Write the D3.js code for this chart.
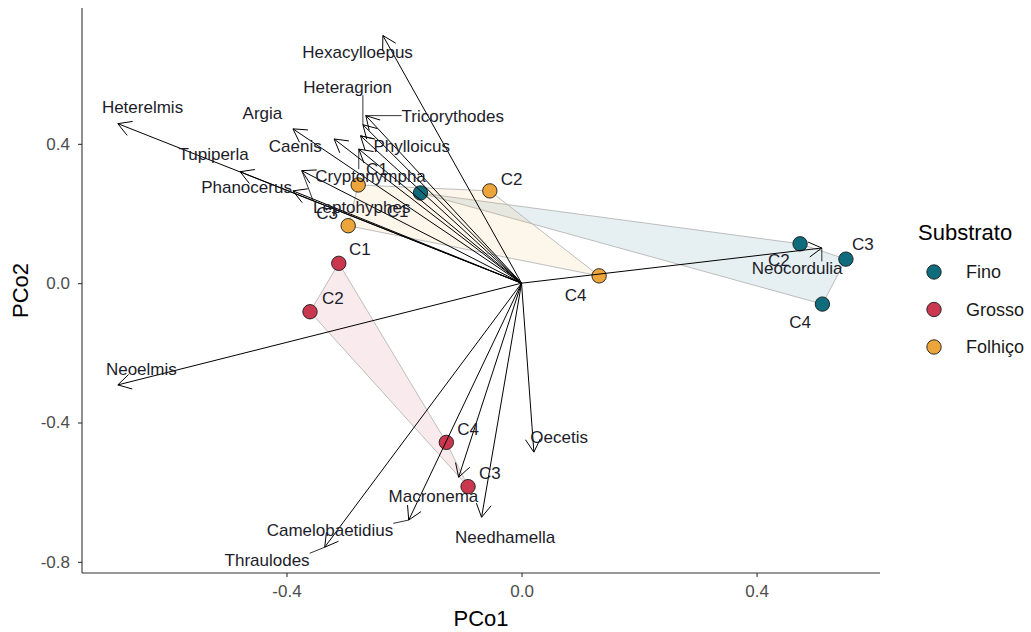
<!DOCTYPE html>
<html>
<head>
<meta charset="utf-8">
<script src="https://cdn.jsdelivr.net/npm/d3@7/dist/d3.min.js"></script>
<style>
  html, body { margin: 0; padding: 0; background: #fff; }
  svg { display: block; font-family: "Liberation Sans", Arial, sans-serif; }
</style>
</head>
<body>
<svg id="chart" width="1031" height="632"></svg>
<script>
// ---------- data ----------
const groups = ["Fino", "Grosso", "Folhiço"];
const groupColors = ["#0E6C7C", "#C9384F", "#EBA53B"];

const siteGroup = ["Fino","Fino","Fino","Fino","Folhiço","Folhiço","Folhiço","Folhiço","Grosso","Grosso","Grosso","Grosso"];
const siteName  = ["C1","C2","C3","C4","C1","C2","C3","C4","C1","C2","C3","C4"];
const siteX     = [-0.172, 0.474, 0.552, 0.512, -0.278, -0.054, -0.295, 0.132, -0.311, -0.360, -0.091, -0.128];
const siteY     = [ 0.259, 0.113, 0.069, -0.060, 0.282, 0.265, 0.165, 0.021, 0.057, -0.082, -0.584, -0.457];
const siteLabX  = [-0.211, 0.438, 0.581, 0.474, -0.246, -0.017, -0.331, 0.092, -0.275, -0.321, -0.054, -0.091];
const siteLabY  = [ 0.205, 0.064, 0.110, -0.114, 0.326, 0.297, 0.199, -0.036, 0.096, -0.045, -0.545, -0.419];

const taxa  = ["Hexacylloepus","Heteragrion","Tricorythodes","Phylloicus","Cryptonympha","Argia","Caenis",
               "Leptohyphes","Tupiperla","Phanocerus","Heterelmis","Neocordulia","Neoelmis","Thraulodes",
               "Camelobaetidius","Macronema","Needhamella","Oecetis"];
const taxaX = [-0.236,-0.270,-0.265,-0.274,-0.277,-0.389,-0.319,-0.374,-0.479,-0.389,-0.687, 0.511,-0.687,-0.335,-0.192,-0.107,-0.068, 0.021];
const taxaY = [ 0.711, 0.455, 0.481, 0.423, 0.385, 0.443, 0.414, 0.323, 0.320, 0.265, 0.458, 0.101,-0.292,-0.758,-0.680,-0.557,-0.672,-0.485];
const taxaLabX = [-0.279,-0.296,-0.117,-0.187,-0.257,-0.441,-0.385,-0.272,-0.524,-0.468,-0.645, 0.469,-0.647,-0.433,-0.326,-0.150,-0.028, 0.064];
const taxaLabY = [ 0.662, 0.561, 0.478, 0.393, 0.306, 0.487, 0.393, 0.216, 0.369, 0.274, 0.504, 0.041,-0.247,-0.797,-0.711,-0.613,-0.729,-0.443];

const xTicks = [-0.4, 0.0, 0.4];
const yTicks = [-0.8, -0.4, 0.0, 0.4];
const xTitle = "PCo1", yTitle = "PCo2", legendTitle = "Substrato";

// ---------- layout ----------
const svg = d3.select("#chart");
const M = { left: 82, right: 880, top: 8, bottom: 573 };
const x = d3.scaleLinear().domain([-0.748, 0.610]).range([M.left, M.right]);
const y = d3.scaleLinear().domain([-0.832, 0.790]).range([M.bottom, M.top]);
const color = d3.scaleOrdinal().domain(groups).range(groupColors);
const fmt = v => d3.format(".1f")(v).replace("\u2212", "-");

const sites = siteName.map((n, i) => ({ name: n, g: siteGroup[i], x: siteX[i], y: siteY[i], lx: siteLabX[i], ly: siteLabY[i] }));
const vecs = taxa.map((n, i) => ({ name: n, x: taxaX[i], y: taxaY[i], lx: taxaLabX[i], ly: taxaLabY[i] }));

// hulls
const gHull = svg.append("g");
groups.forEach(g => {
  const pts = sites.filter(s => s.g === g).map(s => [x(s.x), y(s.y)]);
  const hull = d3.polygonHull(pts);
  gHull.append("path")
    .attr("d", "M" + hull.join("L") + "Z")
    .attr("fill", color(g)).attr("fill-opacity", 0.1)
    .attr("stroke", "#BDBDBD").attr("stroke-width", 1);
});

// points
svg.append("g").selectAll("circle").data(sites).join("circle")
  .attr("cx", d => x(d.x)).attr("cy", d => y(d.y)).attr("r", 7.2)
  .attr("fill", d => color(d.g)).attr("stroke", "#1a1a1a").attr("stroke-width", 0.9);

// arrows
const ox = x(0), oy = y(0);
const gArr = svg.append("g").attr("fill", "none").attr("stroke", "#000").attr("stroke-width", 1);
vecs.forEach(v => {
  const tx = x(v.x), ty = y(v.y);
  gArr.append("line").attr("x1", ox).attr("y1", oy).attr("x2", tx).attr("y2", ty);
  const ang = Math.atan2(oy - ty, ox - tx);
  const L = 15, a = Math.PI / 6;
  const p1 = [tx + L * Math.cos(ang + a), ty + L * Math.sin(ang + a)];
  const p2 = [tx + L * Math.cos(ang - a), ty + L * Math.sin(ang - a)];
  gArr.append("path").attr("d", `M${p1}L${tx},${ty}L${p2}`);
});

// taxa labels with repel-like segments
const gLab = svg.append("g");
const gSeg = svg.append("g").attr("stroke", "#000").attr("stroke-width", 0.8);
vecs.forEach(v => {
  const t = gLab.append("text").attr("x", x(v.lx)).attr("y", y(v.ly))
    .attr("text-anchor", "middle").attr("dominant-baseline", "central")
    .attr("font-size", 17).attr("fill", "#1c1c2a").text(v.name);
  const bb = t.node().getBBox();
  const tx = x(v.x), ty = y(v.y);
  const cx = Math.max(bb.x, Math.min(tx, bb.x + bb.width));
  const cy = Math.max(bb.y + 2, Math.min(ty, bb.y + bb.height - 2));
  const dist = Math.hypot(tx - cx, ty - cy);
  if (dist > 13) {
    gSeg.append("line").attr("x1", cx).attr("y1", cy).attr("x2", tx).attr("y2", ty);
  }
});

// site labels
svg.append("g").selectAll("text").data(sites).join("text")
  .attr("x", d => x(d.lx)).attr("y", d => y(d.ly))
  .attr("text-anchor", "middle").attr("dominant-baseline", "central")
  .attr("font-size", 17).attr("fill", "#1c1c2a").text(d => d.name);

// axes
const axisCol = "#333";
const gx = svg.append("g").attr("transform", `translate(0,${M.bottom})`)
  .call(d3.axisBottom(x).tickValues(xTicks).tickFormat(fmt).tickSize(4).tickPadding(8));
const gy = svg.append("g").attr("transform", `translate(${M.left},0)`)
  .call(d3.axisLeft(y).tickValues(yTicks).tickFormat(fmt).tickSize(4).tickPadding(8));
[gx, gy].forEach(g => {
  g.select(".domain").attr("stroke", axisCol).attr("stroke-width", 1.1);
  g.selectAll(".tick line").attr("stroke", axisCol).attr("stroke-width", 1.1);
  g.selectAll(".tick text").attr("fill", "#4D4D4D").attr("font-size", 17)
    .attr("font-family", "'Liberation Sans', Arial, sans-serif");
});
gx.select(".domain").attr("d", `M${M.left},0H${M.right}`);
gy.select(".domain").attr("d", `M0,${M.bottom}V${M.top}`);

svg.append("text").attr("x", (M.left + M.right) / 2).attr("y", 626)
  .attr("text-anchor", "middle").attr("font-size", 22).attr("fill", "#000").text(xTitle);
svg.append("text").attr("transform", `translate(28,${(M.top + M.bottom) / 2}) rotate(-90)`)
  .attr("text-anchor", "middle").attr("font-size", 22).attr("fill", "#000").text(yTitle);

// legend
const lg = svg.append("g");
lg.append("text").attr("x", 918).attr("y", 240).attr("font-size", 22).attr("fill", "#000").text(legendTitle);
groups.forEach((g, i) => {
  const cy = 272 + i * 37.5;
  lg.append("circle").attr("cx", 934).attr("cy", cy).attr("r", 7.2)
    .attr("fill", color(g)).attr("stroke", "#1a1a1a").attr("stroke-width", 0.9);
  lg.append("text").attr("x", 966).attr("y", cy).attr("dominant-baseline", "central")
    .attr("font-size", 18).attr("fill", "#1a1a1a").text(g);
});
</script>
</body>
</html>
